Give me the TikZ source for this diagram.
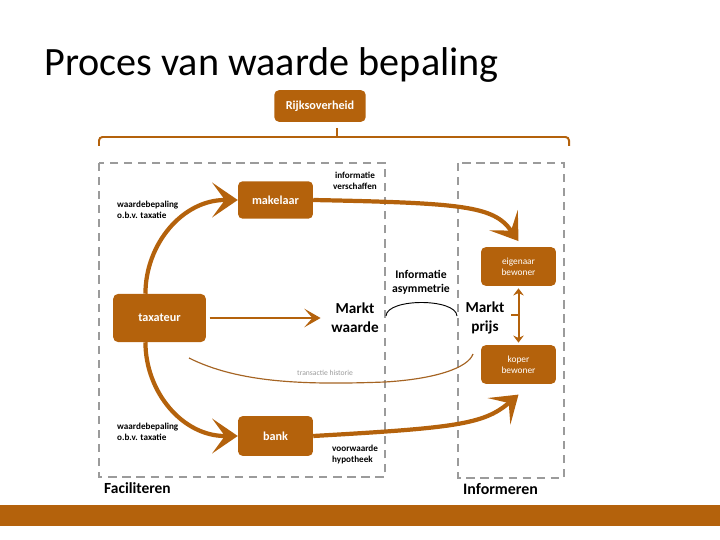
\documentclass[tikz,border=0pt]{standalone}
\usepackage{fontspec}
\setmainfont{Carlito}
\usepackage{xcolor}
\usetikzlibrary{arrows.meta}
\definecolor{oranje}{RGB}{180,98,12}
\definecolor{grijs}{RGB}{155,155,155}
\definecolor{lijn}{RGB}{165,100,35}

\begin{document}
\begin{tikzpicture}[x=0.03cm,y=0.03cm,%
% common options for blocks:
block/.style = {fill=oranje, rounded corners=4pt, text=white, align=center,
            font=\bfseries\fontsize{10.4}{12}\selectfont, inner sep=0},
% common options for the small blocks:
klein/.style = {block, font=\fontsize{8}{9.5}\selectfont},
% common options for the texts:
label/.style = {align=left, inner sep=0, font=\bfseries\fontsize{7.8}{9.3}\selectfont},
groot/.style = {align=center, inner sep=0, font=\bfseries\fontsize{13}{16.5}\selectfont},
% common options for the frames:
kader/.style = {draw=grijs, line width=1.6pt, dash pattern=on 7pt off 5pt},
% common options for the arrows:
pijl/.style = {draw=oranje, line width=3.6pt,
            -{Stealth[length=22pt,width=30pt,inset=11pt,line width=0pt]}}]
\useasboundingbox (0,0) rectangle (720,-540);
\node[anchor=base west, inner sep=0, font=\fontsize{34.3}{40}\selectfont] (T0) at (44,-76) {Proces van waarde bepaling};
\fill[oranje] (0,-505) rectangle (720,-526);
\draw[kader] (99,-163) rectangle (385,-477);
\draw[kader] (458,-163) rectangle (564,-478);
\node[block, minimum width=78pt, minimum height=27pt] (R0) at (320,-106) {Rijksoverheid};
\node[block, minimum width=64pt, minimum height=32pt] (F1) at (275.5,-200) {makelaar};
\node[block, minimum width=79pt, minimum height=41pt] (F2) at (159.5,-318) {taxateur};
\node[block, minimum width=64pt, minimum height=34pt] (F3) at (275.5,-436) {bank};
\node[klein, minimum width=64pt, minimum height=33pt] (I1) at (518.5,-266.5) {eigenaar\\bewoner};
\node[klein, minimum width=64pt, minimum height=33pt] (I2) at (518.5,-364.5) {koper\\bewoner};
\node[label, anchor=north west] (L1) at (117,-201) {waardebepaling\\o.b.v. taxatie};
\node[label, anchor=north west] (L2) at (117,-423) {waardebepaling\\o.b.v. taxatie};
\node[label, anchor=north, align=center] (L3) at (355,-172) {informatie\\verschaffen};
\node[label, anchor=north west] (L4) at (332,-445) {voorwaarde\\hypotheek};
\node[label, anchor=north, align=center, font=\bfseries\fontsize{10}{12}\selectfont] (L5) at (421,-270) {Informatie\\asymmetrie};
\node[groot] (W0) at (355,-318) {Markt\\waarde};
\node[groot] (P0) at (485,-318) {Markt\\prijs};
\node[anchor=base west, inner sep=0, text=grijs, font=\fontsize{6.5}{8}\selectfont] (H9) at (297,-376) {transactie historie};
\node[anchor=base west, inner sep=0, font=\bfseries\fontsize{13.2}{15}\selectfont] (K1) at (104,-493) {Faciliteren};
\node[anchor=base west, inner sep=0, font=\bfseries\fontsize{13.6}{15}\selectfont] (K2) at (463,-494) {Informeren};
% brace under Rijksoverheid
\coordinate (B0) at (337,-128);
\draw[oranje, line width=1.7pt, rounded corners=3pt] (99,-146) -- (99,-137) -- (569,-137) -- (569,-146);
\draw[oranje, line width=1.7pt] (B0) -- (B0 |- 0,-137);
% arrows
\draw[pijl] ([xshift=-12pt]F2.north) .. controls +(0,50) and +(-55,0) .. (F1.west);
\draw[pijl] ([xshift=-12pt]F2.south) .. controls +(0,-50) and +(-55,0) .. (F3.west);
\draw[pijl] (F1.east) .. controls +(150,-3) and +(-25,35) .. ([yshift=5pt]I1.north);
\draw[pijl] (F3.east) .. controls +(140,8) and +(-35,-30) .. ([yshift=-9pt]I2.south);
\draw[oranje, line width=2.1pt, shorten <=3pt, shorten >=9pt,
      -{Stealth[length=14pt,width=16pt,inset=7pt,line width=0pt]}] (F2.east) -- (W0.west);
\draw[oranje, line width=1.7pt, shorten <=2pt, shorten >=2pt,
      {Stealth[length=6pt,width=9pt,inset=2pt]}-{Stealth[length=6pt,width=9pt,inset=2pt]}] (I1.south) -- (I2.north);
\coordinate (T1) at (511,-315);
\draw[oranje, line width=1.2pt] (T1) -- (T1 -| I1);
% informatie asymmetrie
\coordinate (C0) at (386,-316);
\coordinate (C1) at (457,-316);
\draw[black, line width=0.8pt] (C0) .. controls +(1,18) and +(-1,18) .. (C1);
% transactie historie
\coordinate (H0) at (189,-358);
\coordinate (H1) at (385,-382);
\coordinate (H2) at (473,-354);
\draw[lijn, line width=1pt] (H0) .. controls +(50,-25) and +(-80,-3) .. (H1) .. controls +(50,3) and +(-5,-14) .. (H2);
\end{tikzpicture}
\end{document}
